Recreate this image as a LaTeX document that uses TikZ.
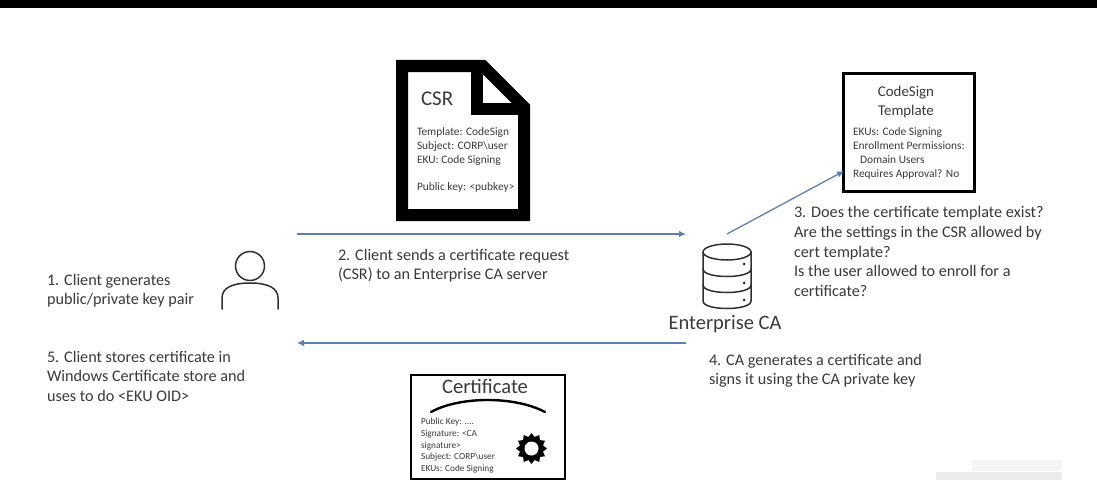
\documentclass[tikz,border=0pt]{standalone}
\usepackage{fontspec}
\setmainfont{Carlito}
\usetikzlibrary{arrows.meta,shapes.geometric}
\definecolor{txt}{HTML}{3A3A3A}
\definecolor{arrowblue}{HTML}{5B7FB5}
\definecolor{iconc}{HTML}{303030}
\tikzset{
  x=1pt,y=-1pt,
  label text/.style={anchor=north west,inner sep=0pt,outer sep=0pt,text=txt,font=\fontsize{16.2}{19.7}\selectfont,align=left},
  small text/.style={anchor=north west,inner sep=0pt,outer sep=0pt,text=txt,font=\fontsize{11.4}{13.6}\selectfont,align=left},
  tiny text/.style={anchor=north west,inner sep=0pt,outer sep=0pt,text=txt,font=\fontsize{9.3}{11.6}\selectfont,align=left},
  flow/.style={draw=arrowblue,line width=1.3pt,-{Latex[length=7pt,width=6.5pt]}},
  icon/.style={draw=iconc,line width=1.5pt,line cap=round,line join=round},
}
\begin{document}
\begin{tikzpicture}
\useasboundingbox (0,0) rectangle (1097,487);
\fill[white] (0,0) rectangle (1097,487);
\fill[black] (0,0) rectangle (1097,8);
% CSR document
\draw[black,line width=12pt,miter limit=10,fill=white] (402,66) -- (483,66) -- (524,107) -- (524,215) -- (402,215) -- cycle;
\draw[black,line width=12pt] (477,62) -- (477,109) -- (528,109);
\fill[white] (484,79) -- (484,102) -- (508,102) -- cycle;
\node[label text,font=\fontsize{21}{24}\selectfont] (csrt) at (421,92) {CSR};
\node[small text] (csrb) at (417,128) {Template: CodeSign\\Subject: CORP\textbackslash user\\EKU: Code Signing\\[13.6pt]Public key: <pubkey>};
% Template box
\node[draw=black,line width=3pt,minimum width=131pt,minimum height=118pt,inner sep=0pt] (tmpl) at (909,132.5) {};
\node[anchor=north,inner sep=0pt,text=txt,align=center,font=\fontsize{14.9}{19}\selectfont] (tmplt) at (906,86) {CodeSign\\Template};
\node[small text,font=\fontsize{11.4}{13.7}\selectfont] (tmplb) at (853,128) {EKUs: Code Signing\\Enrollment Permissions:\\\hspace*{7pt}Domain Users\\Requires Approval? No};
% Certificate box
\node[draw=black,line width=2.4pt,minimum width=154pt,minimum height=104pt,inner sep=0pt] (cert) at (488,427) {};
\node[anchor=north,inner sep=0pt,text=txt,font=\fontsize{20.6}{24}\selectfont] (certt) at (485,379) {Certificate};
\draw[black,line width=2.4pt,line cap=round] (431,412) .. controls (460,396) and (515,396) .. (545,412);
\node[tiny text] (certb) at (421,418.5) {Public Key: ....\\Signature: <CA\\signature>\\Subject: CORP\textbackslash user\\EKUs: Code Signing};
% seal
\node[star,star points=12,star point ratio=1.3,fill=black,minimum size=31pt,inner sep=0pt] (seal) at (531.5,448.5) {};
\node[circle,fill=white,minimum size=14pt,inner sep=0pt] (sealc) at (531.5,448.5) {};
% User
\node[circle,icon,draw,minimum size=29pt,inner sep=0pt] (head) at (250,266) {};
\draw[icon] (222,309) -- (222,298) .. controls (222,288) and (232,283) .. (250,283) .. controls (268,283) and (278,288) .. (278,298) -- (278,309);
% DB
\draw[icon] (703,252) -- (703,301) .. controls (703,311) and (751,311) .. (751,301) -- (751,252);
\draw[icon] (727,252) ellipse (24pt and 8pt);
\draw[icon] (703,269) .. controls (703,279) and (751,279) .. (751,269);
\draw[icon] (703,285) .. controls (703,295) and (751,295) .. (751,285);
\fill[iconc] (744,264) circle (1.5pt) (744,283) circle (1.5pt) (744,300) circle (1.5pt);
\node[anchor=north,inner sep=0pt,text=txt,font=\fontsize{20.5}{24}\selectfont] (ca) at (725,315) {Enterprise CA};
% Coordinates and arrows
\coordinate (a1) at (297,234); \coordinate (a2) at (686,234);
\coordinate (b1) at (686,343); \coordinate (b2) at (297,343);
\coordinate (c1) at (727,234); \coordinate (c2) at (844,171);
\draw[flow] (a1) -- (a2);
\draw[flow] (b1) -- (b2);
\draw[flow] (c1) -- (c2);
% Labels
\node[label text] (l1) at (47,274) {1. Client generates\\public/private key pair};
\node[label text] (l2) at (338,249) {2. Client sends a certificate request\\(CSR) to an Enterprise CA server};
\node[label text] (l3) at (794,206.5) {3. Does the certificate template exist?\\Are the settings in the CSR allowed by\\cert template?\\Is the user allowed to enroll for a\\certificate?};
\node[label text] (l4) at (709,354) {4. CA generates a certificate and\\signs it using the CA private key};
\node[label text] (l5) at (47,351) {5. Client stores certificate in\\Windows Certificate store and\\uses to do <EKU OID>};
% blurred patch
\fill[black!4] (972,460) rectangle (1062,471);
\fill[black!8] (936,472) rectangle (1062,480);
\end{tikzpicture}
\end{document}
